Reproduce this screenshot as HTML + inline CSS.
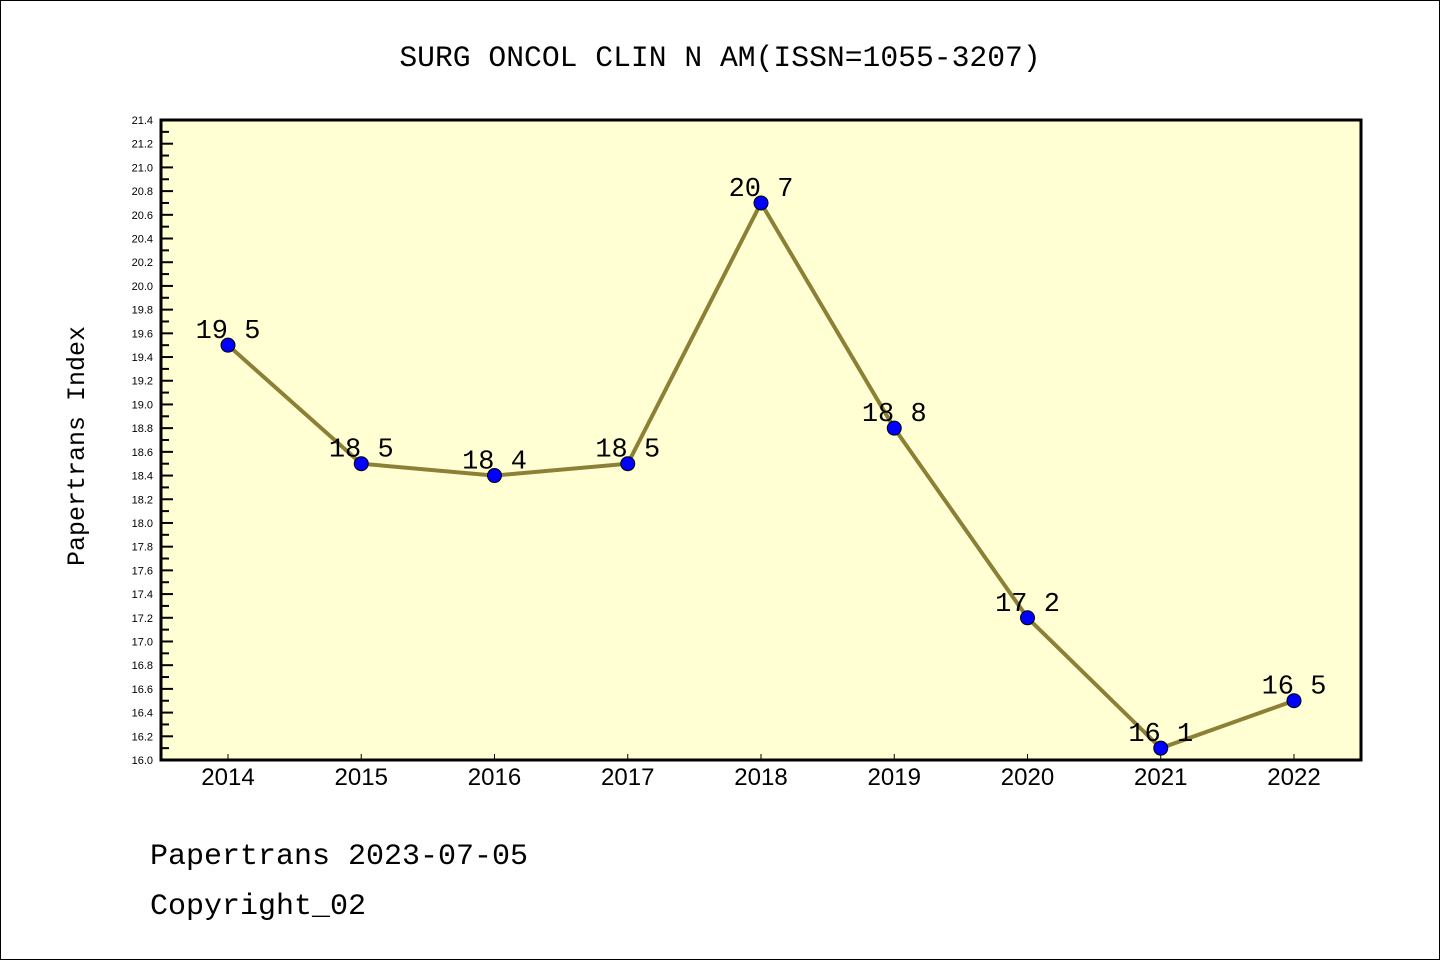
<!DOCTYPE html>
<html><head><meta charset="utf-8"><style>
html,body{margin:0;padding:0;background:#fff;}
svg{display:block;font-family:"Liberation Mono","Noto Sans CJK SC","DejaVu Sans Mono",monospace;}
</style></head><body>
<svg id="chart" width="1440" height="960">
<rect x="0.5" y="0.5" width="1439" height="959" fill="#fff" stroke="#000" stroke-width="1"/>
<text x="720" y="66" text-anchor="middle" font-size="29.7" fill="#000">SURG ONCOL CLIN N AM(ISSN=1055-3207)</text>
<rect x="161" y="120" width="1200" height="640" fill="#ffffd3"/>
<g id="yaxis"></g>
<g id="xaxis"></g>
<g id="series"></g>
<rect x="161" y="120" width="1200" height="640" fill="none" stroke="#000" stroke-width="3"/>
<text transform="translate(84,446) rotate(-90)" text-anchor="middle" font-size="25" fill="#000">Papertrans Index</text>
<text x="150" y="864" font-size="30" fill="#000">Papertrans 2023-07-05</text>
<text x="150" y="914" font-size="30" fill="#000">Copyright_02</text>
</svg>
<script>
const years = [2014,2015,2016,2017,2018,2019,2020,2021,2022];
const values = [19.5,18.5,18.4,18.5,20.7,18.8,17.2,16.1,16.5];
const yTicks = ["16.0","16.2","16.4","16.6","16.8","17.0","17.2","17.4","17.6","17.8","18.0","18.2","18.4","18.6","18.8","19.0","19.2","19.4","19.6","19.8","20.0","20.2","20.4","20.6","20.8","21.0","21.2","21.4"];
const yMin=16.0,yMax=21.4,plotTop=120,plotBot=760,xFirst=228,xLast=1294;
const NS="http://www.w3.org/2000/svg";
function yS(v){return plotBot-(v-yMin)/(yMax-yMin)*(plotBot-plotTop);}
function xS(i){return xFirst+i*(xLast-xFirst)/(years.length-1);}
function mk(t,a,p){const e=document.createElementNS(NS,t);for(const k in a)e.setAttribute(k,a[k]);p.appendChild(e);return e;}
const ya=document.getElementById('yaxis'),xa=document.getElementById('xaxis'),sr=document.getElementById('series');
yTicks.forEach(t=>{const v=parseFloat(t),y=yS(v);
 const l=mk('line',{x1:161,x2:173,y1:y,y2:y,stroke:'#000','stroke-width':2},ya);
 
 
 const tx=mk('text',{x:153,y:y+4,'text-anchor':'end','font-size':11,fill:'#000','font-family':'Liberation Sans, sans-serif'},ya);tx.textContent=t;
 
 
 if(v<yMax-0.01){const ym=yS(v+0.1);const m=mk('line',{x1:161,x2:169,y1:ym,y2:ym,stroke:'#000','stroke-width':2},ya);
 
 }
});
years.forEach((yr,i)=>{const x=xS(i);
 const l=mk('line',{x1:x,x2:x,y1:plotBot,y2:plotBot-6,stroke:'#000','stroke-width':1},xa);
 
 
 const tx=mk('text',{x:x,y:785,'text-anchor':'middle','font-size':24,fill:'#000','font-family':'Liberation Sans, sans-serif'},xa);tx.textContent=yr;
 
 
});
const pl=mk('polyline',{points:values.map((v,i)=>xS(i)+','+yS(v)).join(' '),fill:'none',stroke:'#8b8035','stroke-width':4},sr);


values.forEach((v,i)=>{
 const c=mk('circle',{cx:xS(i),cy:yS(v),r:7,fill:'#0000ff',stroke:'#000','stroke-width':1},sr);
 
 
 const tx=mk('text',{x:xS(i),y:yS(v)-7,'text-anchor':'middle','font-size':27,fill:'#000'},sr);tx.textContent=v.toFixed(1).replace('.',' ');
 
 
});
</script>
</body></html>
